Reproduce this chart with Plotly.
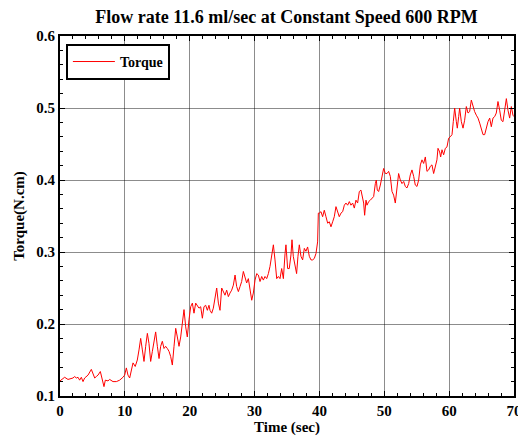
import plotly.graph_objects as go

time_sec = [
    0, 0.72, 1.23, 2.0, 2.26, 2.52, 2.78, 3.03, 3.29, 3.55, 3.8, 4.32, 4.83, 5.09, 5.35, 5.6, 5.86,
    6.22, 6.48, 6.78, 6.99, 7.4, 7.66, 7.92, 8.17, 8.69, 9.2, 9.71, 9.97, 10.23, 10.48, 10.74, 11.0,
    11.26, 11.6, 11.92, 12.18, 12.44, 12.7, 12.95, 13.21, 13.47, 13.72, 13.98, 14.24, 14.49, 14.75,
    15.01, 15.27, 15.52, 15.78, 16.04, 16.29, 16.55, 16.81, 17.06, 17.32, 17.58, 17.84, 18.09, 18.35,
    18.61, 18.86, 19.12, 19.38, 19.63, 19.89, 20.15, 20.41, 20.66, 20.92, 21.18, 21.43, 21.69, 21.95,
    22.2, 22.46, 22.72, 22.97,
    23.13, 23.39, 23.64, 23.9, 24.16, 24.42, 24.67, 24.93, 25.19, 25.44, 25.7, 25.96, 26.21, 26.47,
    26.73, 26.99, 27.24, 27.5, 27.76, 28.01, 28.27, 28.53, 28.78, 29.04, 29.3, 29.56, 29.81, 30.07,
    30.33, 30.58, 30.84, 31.1, 31.35, 31.61, 31.87, 32.13, 32.38, 32.64, 32.9, 33.15, 33.41, 33.67,
    33.92, 34.18, 34.44, 34.7,
    34.84, 35.1, 35.35, 35.61, 35.77, 35.97, 36.23, 36.48, 36.69, 36.9, 37.15, 37.41, 37.67, 37.92,
    38.18, 38.44, 38.7, 38.95, 39.21, 39.47, 39.72, 39.83, 39.98, 40.24, 40.49, 40.75, 41.01, 41.27,
    41.52, 41.78, 42.04, 42.29, 42.55, 42.81, 43.06, 43.32, 43.58, 43.84, 44.09, 44.35, 44.61, 44.86,
    45.12, 45.38, 45.63, 45.89, 46.15, 46.4,
    46.82, 46.97, 47.18, 47.33, 47.59, 47.85, 48.1, 48.36, 48.62, 48.77, 48.92, 49.13, 49.39, 49.64,
    49.9, 50.16, 50.42, 50.67, 50.93, 51.19, 51.44, 51.7, 51.96, 52.21, 52.47, 52.73, 52.99, 53.24,
    53.5, 53.76, 54.01, 54.27, 54.53, 54.78, 55.04, 55.3, 55.56, 55.81, 56.07, 56.33, 56.58, 56.84,
    57.1, 57.35, 57.61, 57.87, 58.12,
    58.28, 58.54, 58.69, 58.9, 59.15, 59.41, 59.67, 59.92, 60.18, 60.44, 60.64, 60.85, 61.11, 61.26,
    61.47, 61.62, 61.88, 62.14, 62.39, 62.65, 62.91, 63.16, 63.42, 63.68, 63.93, 64.19, 64.45, 64.71,
    64.96, 65.22, 65.48, 65.73, 65.99, 66.25, 66.5, 66.76, 67.02, 67.27, 67.53, 67.79, 68.04, 68.3,
    68.56, 68.82, 69.07, 69.33, 69.59, 69.84, 70.0,
]

torque = [
    0.121, 0.126, 0.123, 0.125, 0.127, 0.125, 0.126, 0.122, 0.126, 0.120, 0.125, 0.129, 0.137, 0.132,
    0.125, 0.127, 0.129, 0.134, 0.122, 0.113, 0.122, 0.121, 0.123, 0.121, 0.120, 0.120, 0.122, 0.126,
    0.129, 0.139, 0.129, 0.125, 0.136,
    0.146, 0.141, 0.150, 0.164, 0.180, 0.164, 0.148, 0.169, 0.187, 0.173, 0.148, 0.162, 0.173, 0.189,
    0.169, 0.152, 0.169, 0.176, 0.166, 0.169, 0.166, 0.162, 0.155, 0.143, 0.169, 0.194, 0.182, 0.169,
    0.182, 0.206, 0.220, 0.196, 0.182, 0.206, 0.224, 0.229, 0.215, 0.229, 0.226, 0.222, 0.224, 0.208,
    0.224, 0.226, 0.219, 0.226,
    0.219, 0.215, 0.222, 0.236, 0.250, 0.229, 0.219, 0.250, 0.245, 0.240, 0.247, 0.238, 0.243, 0.247,
    0.254, 0.268, 0.252, 0.245, 0.252, 0.259, 0.273, 0.266, 0.257, 0.263, 0.250, 0.233, 0.243, 0.261,
    0.270, 0.268, 0.259, 0.266, 0.261, 0.266, 0.263, 0.270, 0.280, 0.298, 0.310, 0.289, 0.263, 0.266,
    0.263, 0.277, 0.263, 0.298,
    0.310, 0.277, 0.277, 0.296, 0.317, 0.294, 0.284, 0.270, 0.294, 0.310, 0.294, 0.289, 0.305, 0.301,
    0.307, 0.294, 0.289, 0.289, 0.291, 0.298, 0.314, 0.354, 0.354, 0.356, 0.349, 0.358, 0.349, 0.340,
    0.342, 0.335, 0.342, 0.349, 0.363, 0.354, 0.349, 0.354, 0.356, 0.365, 0.368, 0.365, 0.370, 0.365,
    0.368, 0.361, 0.372, 0.368, 0.384, 0.386,
    0.368, 0.351, 0.372, 0.365, 0.370, 0.372, 0.375, 0.377, 0.395, 0.400, 0.386, 0.384, 0.393, 0.405,
    0.416, 0.409, 0.409, 0.412, 0.405, 0.384, 0.379, 0.368, 0.389, 0.409, 0.400, 0.395, 0.398, 0.391,
    0.389, 0.395, 0.407, 0.414, 0.405, 0.393, 0.391, 0.400, 0.421, 0.428, 0.423, 0.432, 0.412, 0.414,
    0.419, 0.421, 0.409, 0.419, 0.428,
    0.444, 0.439, 0.432, 0.442, 0.435, 0.444, 0.446, 0.458, 0.460, 0.463, 0.481, 0.500, 0.481, 0.472,
    0.488, 0.500, 0.481, 0.472, 0.483, 0.502, 0.493, 0.495, 0.511, 0.502, 0.495, 0.490, 0.486, 0.479,
    0.469, 0.463, 0.463, 0.472, 0.481, 0.486, 0.474, 0.486, 0.488, 0.493, 0.509, 0.497, 0.483, 0.481,
    0.497, 0.513, 0.497, 0.486, 0.502, 0.490, 0.488,
]

x_ticks = [0, 10, 20, 30, 40, 50, 60, 70]
y_ticks = [0.1, 0.2, 0.3, 0.4, 0.5, 0.6]

FONT = "Liberation Serif"

fig = go.Figure()
fig.add_trace(go.Scatter(
    x=time_sec, y=torque, mode="lines", name="Torque",
    line=dict(color="#ff0000", width=1),
))

axis_common = dict(
    showline=True, linecolor="black", linewidth=2, mirror="allticks",
    ticks="inside", ticklen=5, tickcolor="black", tickwidth=1,
    showgrid=True, gridcolor="rgba(0,0,0,0.45)", gridwidth=1,
    zeroline=False, automargin=False,
    tickfont=dict(family=FONT, size=15, color="black", weight="bold"),
)

# the page body adds an 8px offset, so the figure is 518x429 placed at (8, 8)
fig.update_layout(
    width=518, height=429,
    margin=dict(l=52, r=12, t=28, b=41),
    paper_bgcolor="white", plot_bgcolor="white",
    title=dict(
        text="Flow rate 11.6 ml/sec at Constant Speed 600 RPM",
        font=dict(family=FONT, size=18, color="black", weight="bold"),
        x=0.5376, xref="container", xanchor="center", y=0.979, yref="container", yanchor="middle",
    ),
    xaxis=dict(
        range=[0, 70], tickvals=x_ticks, ticktext=[str(v) for v in x_ticks],
        title=dict(text="Time (sec)", standoff=2,
                   font=dict(family=FONT, size=15, color="black", weight="bold")),
        minor=dict(dtick=2, ticks="inside", ticklen=3, tickcolor="black", showgrid=False),
        **axis_common,
    ),
    yaxis=dict(
        range=[0.1, 0.6], tickvals=y_ticks, ticktext=[f"{v:.1f}" for v in y_ticks],
        title=dict(text="Torque(N.cm)", standoff=8,
                   font=dict(family=FONT, size=15, color="black", weight="bold")),
        minor=dict(dtick=0.02, ticks="inside", ticklen=3, tickcolor="black", showgrid=False),
        **axis_common,
    ),
    showlegend=True,
    legend=dict(
        x=0.013, y=0.978, xanchor="left", yanchor="top",
        bgcolor="white", bordercolor="black", borderwidth=2,
        font=dict(family=FONT, size=14, color="black", weight="bold"),
        itemwidth=42,
    ),
)

fig.write_html("out.html")
